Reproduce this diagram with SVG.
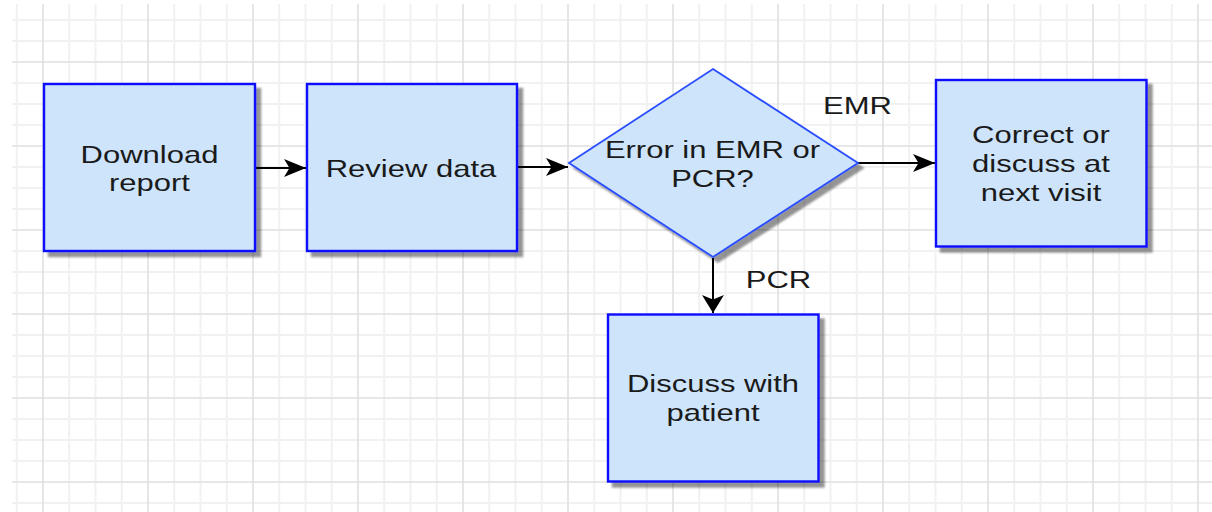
<svg xmlns="http://www.w3.org/2000/svg" width="1212" height="512" viewBox="0 0 1212 512">
<style>
.minor{stroke:#f1f1f1;stroke-width:2;fill:none}
.major{stroke:#e0e0e0;stroke-width:1.6;fill:none}
.node{fill:#cde4fb;stroke:#0a0aff;stroke-width:2.4;filter:url(#sh)}
.dia{fill:#cde4fb;stroke:#2a4dff;stroke-width:1.8;filter:url(#sh)}
.edge{stroke:#000;stroke-width:2;fill:none}
text{font-family:"Liberation Sans",Arial,sans-serif;font-size:24.8px;fill:#1a1a1a;text-anchor:middle}
</style>
<defs>
<filter id="sh" x="-10%" y="-10%" width="130%" height="130%">
<feGaussianBlur in="SourceAlpha" stdDeviation="1.2"/>
<feOffset dx="5" dy="5" result="o"/>
<feComponentTransfer><feFuncA type="linear" slope="0.42"/></feComponentTransfer>
<feMerge><feMergeNode/><feMergeNode in="SourceGraphic"/></feMerge>
</filter>
<marker id="ah" markerUnits="userSpaceOnUse" markerWidth="24" markerHeight="20" refX="22" refY="9" orient="auto" viewBox="0 0 24 20">
<path d="M0,0 L22,9 L0,18 L5.5,9 Z" fill="#000"/>
</marker>
<marker id="av" markerUnits="userSpaceOnUse" markerWidth="20" markerHeight="24" refX="18" refY="11" orient="auto" viewBox="0 0 20 24">
<path d="M0,0 L18,11 L0,22 L4.5,11 Z" fill="#000"/>
</marker>
</defs>
<rect width="1212" height="512" fill="#fff"/>
<g id="grid">
<path class="minor" d="M16.75,4V512M69.25,4V512M95.5,4V512M121.75,4V512M174.25,4V512M200.5,4V512M226.75,4V512M279.25,4V512M305.5,4V512M331.75,4V512M384.25,4V512M410.5,4V512M436.75,4V512M489.25,4V512M515.5,4V512M541.75,4V512M594.25,4V512M620.5,4V512M646.75,4V512M699.25,4V512M725.5,4V512M751.75,4V512M804.25,4V512M830.5,4V512M856.75,4V512M909.25,4V512M935.5,4V512M961.75,4V512M1014.25,4V512M1040.5,4V512M1066.75,4V512M1119.25,4V512M1145.5,4V512M1171.75,4V512
M12,20H1212M12,41H1212M12,83H1212M12,104H1212M12,125H1212M12,167H1212M12,188H1212M12,209H1212M12,251H1212M12,272H1212M12,293H1212M12,335H1212M12,356H1212M12,377H1212M12,419H1212M12,440H1212M12,461H1212M12,503H1212"/>
<path class="major" d="M43,4V512M148,4V512M253,4V512M358,4V512M463,4V512M568,4V512M673,4V512M778,4V512M883,4V512M988,4V512M1093,4V512M1198,4V512
M12,62H1212M12,146H1212M12,230H1212M12,314H1212M12,398H1212M12,482H1212"/>
</g>
<g id="connectors">
<path class="edge" d="M256,168H306" marker-end="url(#ah)"/>
<path class="edge" d="M518,167H568" marker-end="url(#ah)"/>
<path class="edge" d="M858,163H935" marker-end="url(#ah)"/>
<path class="edge" d="M713,258V313" marker-end="url(#av)"/>
<g transform="translate(857.5,114) scale(1.25,1)"><text>EMR</text></g>
<g transform="translate(778.5,287.5) scale(1.25,1)"><text>PCR</text></g>
</g>
<g id="download">
<rect class="node" x="44" y="84" width="211" height="167"/>
<g transform="translate(149.5,163) scale(1.25,1)"><text>Download</text></g>
<g transform="translate(149.5,191) scale(1.25,1)"><text>report</text></g>
</g>
<g id="review">
<rect class="node" x="307" y="84" width="210" height="167"/>
<g transform="translate(411,177) scale(1.25,1)"><text>Review data</text></g>
</g>
<g id="decision">
<path class="dia" d="M713,69 L858,163 L713,257 L569,163 Z"/>
<g transform="translate(712.5,158) scale(1.25,1)"><text>Error in EMR or</text></g>
<g transform="translate(712.5,187) scale(1.25,1)"><text>PCR?</text></g>
</g>
<g id="correct">
<rect class="node" x="936" y="80" width="210.5" height="166.5"/>
<g transform="translate(1041,143) scale(1.25,1)"><text>Correct or</text></g>
<g transform="translate(1041,172) scale(1.25,1)"><text>discuss at</text></g>
<g transform="translate(1041,201) scale(1.25,1)"><text>next visit</text></g>
</g>
<g id="discuss">
<rect class="node" x="608" y="314.5" width="210.5" height="167"/>
<g transform="translate(713,391.5) scale(1.25,1)"><text>Discuss with</text></g>
<g transform="translate(713,421) scale(1.25,1)"><text>patient</text></g>
</g>
</svg>
